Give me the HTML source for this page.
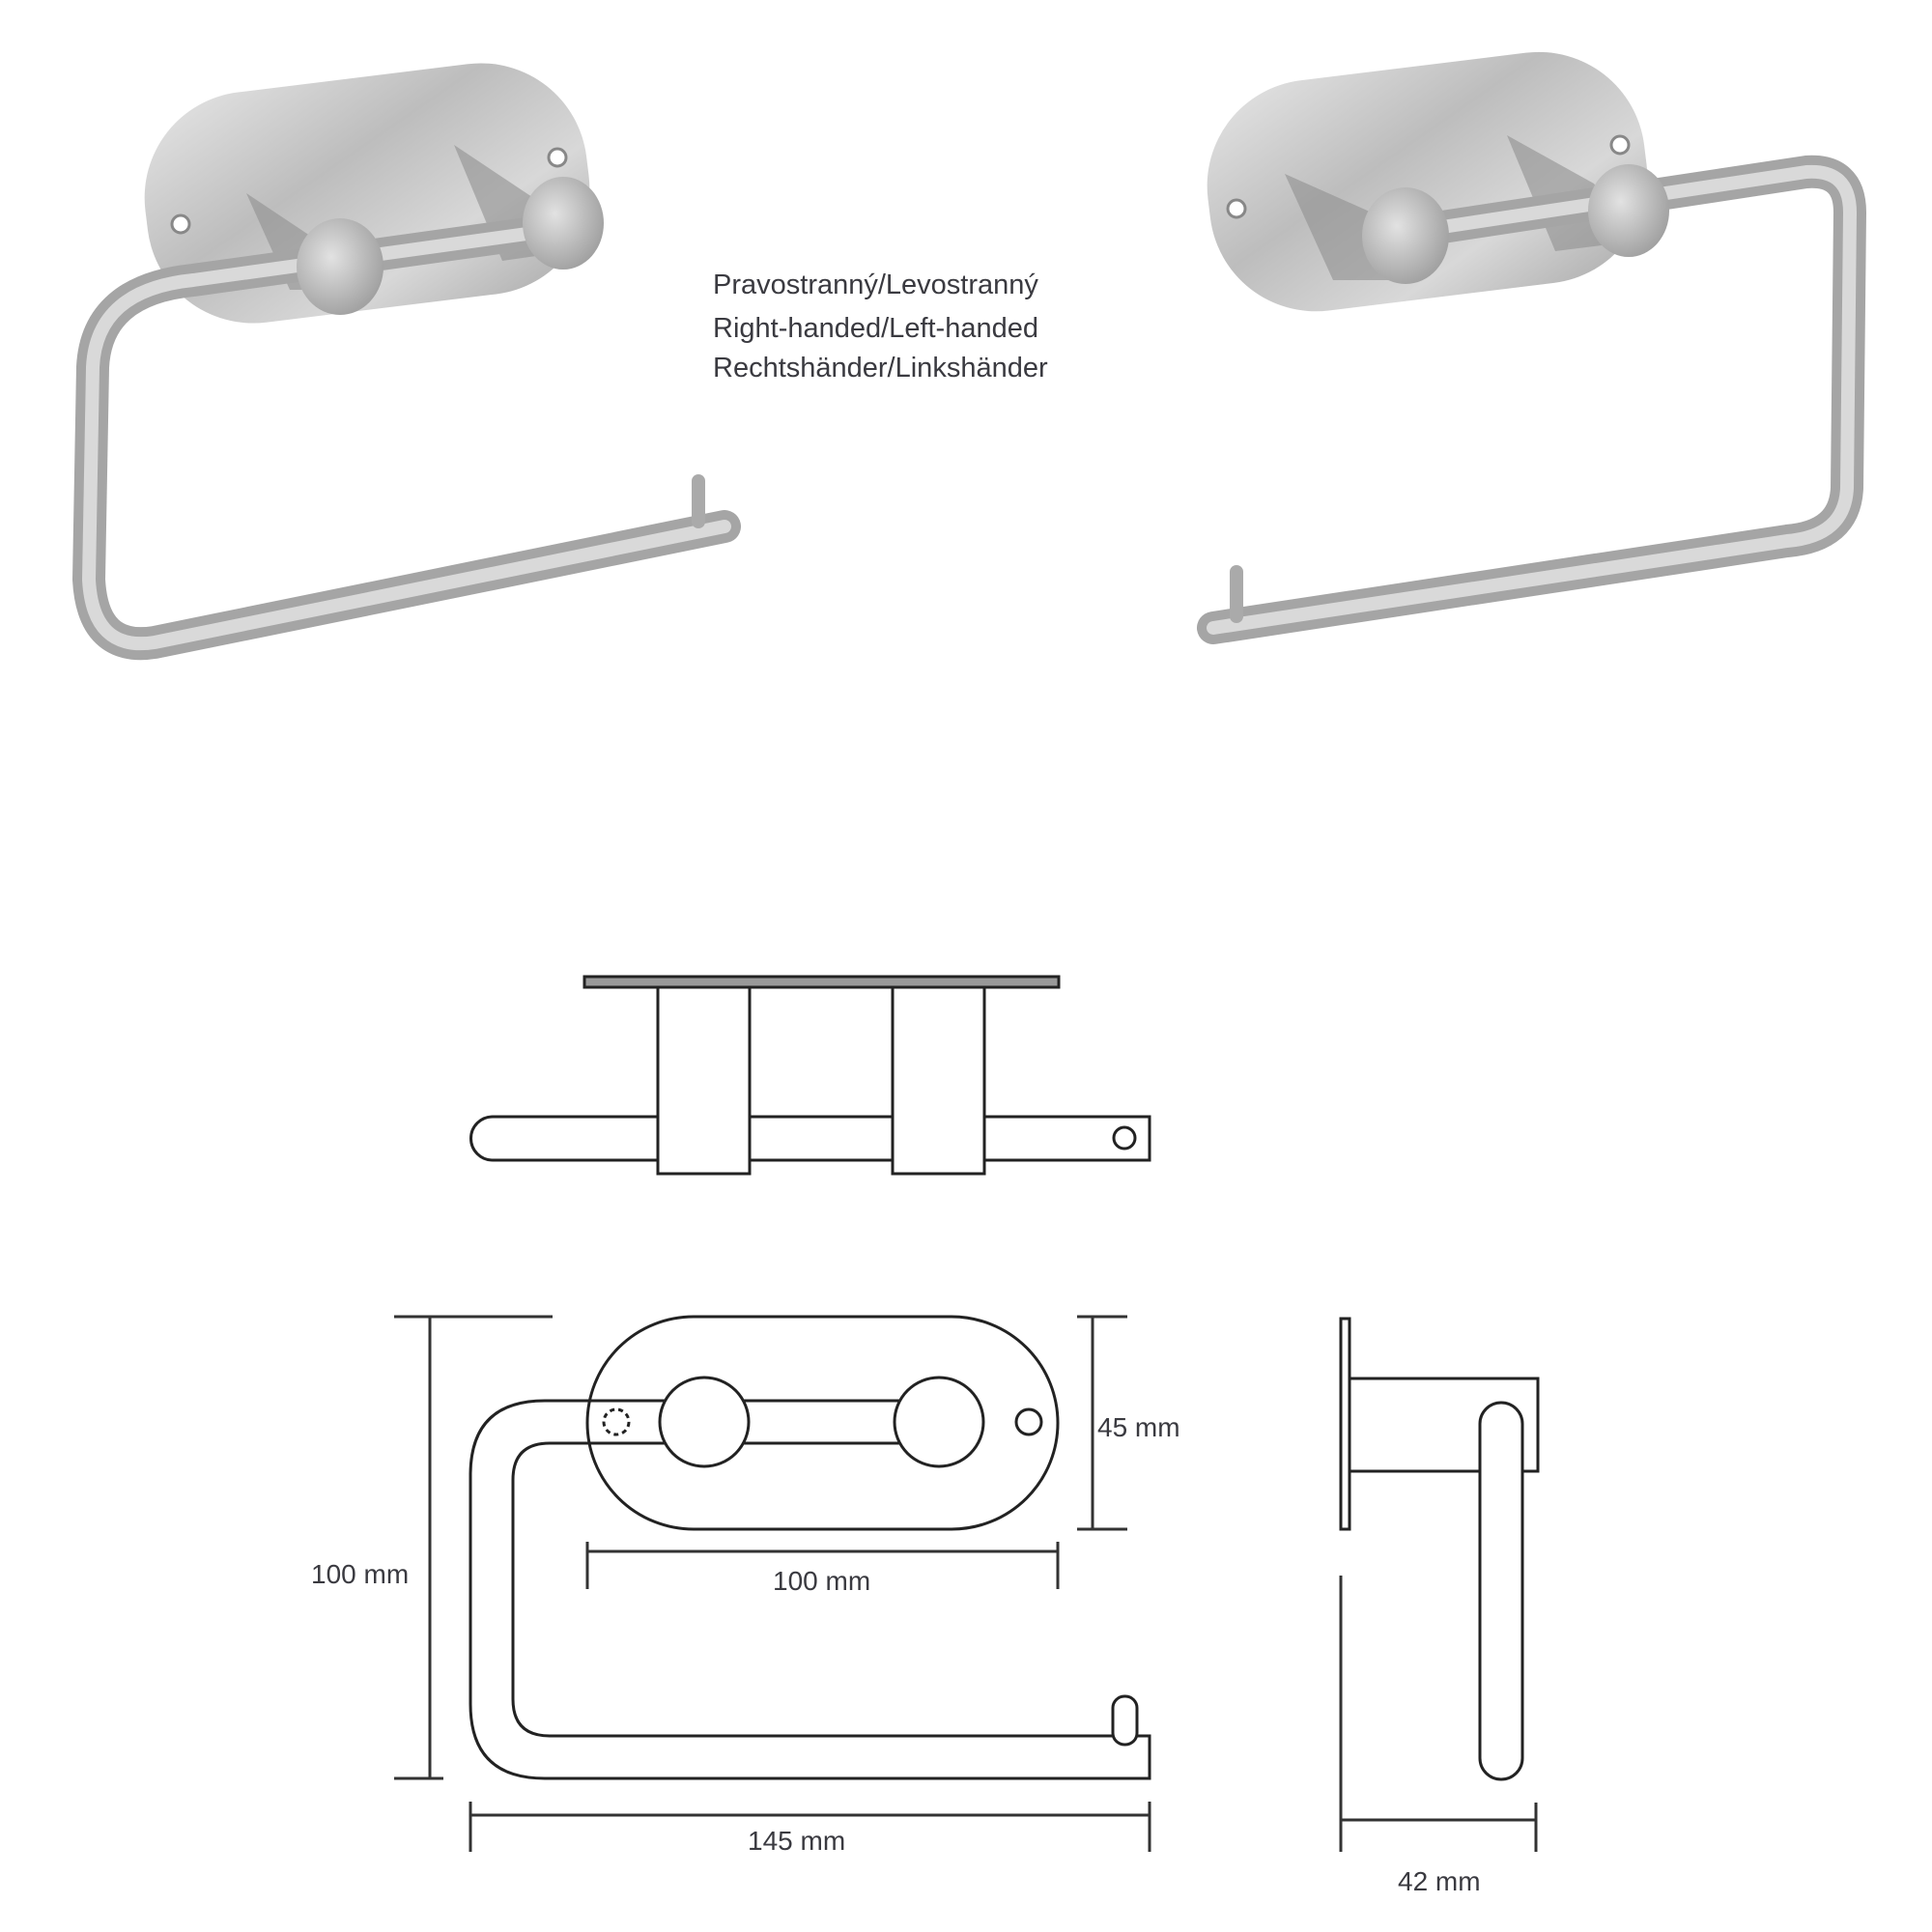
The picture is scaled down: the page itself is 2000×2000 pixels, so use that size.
<!DOCTYPE html>
<html><head><meta charset="utf-8"><style>
html,body{margin:0;padding:0;background:#fff;}
svg{display:block;}
text{font-family:"Liberation Sans",sans-serif;fill:#3a3a40;}
</style></head><body>
<svg width="2000" height="2000" viewBox="0 0 2000 2000" xmlns="http://www.w3.org/2000/svg">
<defs>
<linearGradient id="pl" x1="0" y1="0" x2="1" y2="1">
<stop offset="0" stop-color="#e6e6e6"/><stop offset="0.4" stop-color="#bdbdbd"/><stop offset="0.7" stop-color="#d8d8d8"/><stop offset="1" stop-color="#a9a9a9"/></linearGradient>
<radialGradient id="kn" cx="0.4" cy="0.4" r="0.7"><stop offset="0" stop-color="#e2e2e2"/><stop offset="1" stop-color="#9a9a9a"/></radialGradient>
</defs>
<!-- Left photo -->
<rect x="150" y="80" width="460" height="240" rx="110" fill="url(#pl)" transform="rotate(-7 380 200)"/>
<path d="M255 200 L330 250 L370 300 L300 300Z" fill="#8f8f8f" opacity="0.6"/>
<path d="M470 150 L560 210 L590 260 L520 270Z" fill="#8f8f8f" opacity="0.6"/>
<circle cx="187" cy="232" r="9" fill="#fff" stroke="#888" stroke-width="3"/>
<circle cx="577" cy="163" r="9" fill="#fff" stroke="#888" stroke-width="3"/>
<path d="M560 240 L200 290 Q100 300 96 380 L92 600 Q96 675 160 665 L750 545" fill="none" stroke="#a5a5a5" stroke-width="34" stroke-linecap="round" stroke-linejoin="round"/>
<path d="M560 240 L200 290 Q100 300 96 380 L92 600 Q96 675 160 665 L750 545" fill="none" stroke="#d9d9d9" stroke-width="14" stroke-linecap="round" stroke-linejoin="round"/>
<line x1="723" y1="498" x2="723" y2="540" stroke="#aaa" stroke-width="14" stroke-linecap="round"/>
<ellipse cx="352" cy="276" rx="45" ry="50" fill="url(#kn)"/>
<ellipse cx="583" cy="231" rx="42" ry="48" fill="url(#kn)"/>
<!-- Right photo -->
<rect x="1250" y="68" width="455" height="240" rx="110" fill="url(#pl)" transform="rotate(-7 1478 188)"/>
<path d="M1330 180 L1420 220 L1460 290 L1380 290Z" fill="#8f8f8f" opacity="0.6"/>
<path d="M1560 140 L1650 190 L1690 250 L1610 260Z" fill="#8f8f8f" opacity="0.6"/>
<circle cx="1280" cy="216" r="9" fill="#fff" stroke="#888" stroke-width="3"/>
<circle cx="1677" cy="150" r="9" fill="#fff" stroke="#888" stroke-width="3"/>
<path d="M1460 240 L1870 178 Q1915 175 1915 220 L1912 505 Q1910 555 1850 560 L1256 650" fill="none" stroke="#a5a5a5" stroke-width="34" stroke-linecap="round" stroke-linejoin="round"/>
<path d="M1460 240 L1870 178 Q1915 175 1915 220 L1912 505 Q1910 555 1850 560 L1256 650" fill="none" stroke="#d9d9d9" stroke-width="14" stroke-linecap="round" stroke-linejoin="round"/>
<line x1="1280" y1="592" x2="1280" y2="638" stroke="#aaa" stroke-width="14" stroke-linecap="round"/>
<ellipse cx="1455" cy="244" rx="45" ry="50" fill="url(#kn)"/>
<ellipse cx="1686" cy="218" rx="42" ry="48" fill="url(#kn)"/>
<!-- labels -->
<text x="738" y="304" font-size="29">Pravostranný/Levostranný</text>
<text x="738" y="349" font-size="29">Right-handed/Left-handed</text>
<text x="738" y="390" font-size="29">Rechtshänder/Linkshänder</text>
<!-- Top view drawing -->
<g fill="none" stroke="#222" stroke-width="3">
<rect x="605" y="1011" width="491" height="11" fill="#999"/>
<path d="M510 1156 L1190 1156 L1190 1201 L510 1201 A22 22 0 0 1 510 1156Z" fill="#fff"/>
<rect x="681" y="1022" width="95" height="193" fill="#fff"/>
<rect x="924" y="1022" width="95" height="193" fill="#fff"/>
<circle cx="1164" cy="1178" r="11"/>
</g>
<!-- Front view -->
<g fill="none" stroke="#222" stroke-width="3">
<rect x="608" y="1363" width="487" height="220" rx="110" fill="#fff"/>
<path d="M610 1450 L564 1450 Q487 1450 487 1527 L487 1764 Q487 1841 564 1841 L1190 1841 L1190 1797 L569 1797 Q531 1797 531 1759 L531 1532 Q531 1494 569 1494 L610 1494"/>
<path d="M729 1450 L972 1450 M729 1494 L972 1494"/>
<path d="M600 1450 L690 1450 M600 1494 L690 1494"/>
<circle cx="729" cy="1472" r="46" fill="#fff"/>
<circle cx="972" cy="1472" r="46" fill="#fff"/>
<circle cx="638" cy="1472" r="13" stroke-dasharray="5 4"/>
<circle cx="1065" cy="1472" r="13"/>
<rect x="1152" y="1756" width="25" height="50" rx="12" fill="#fff"/>
</g>
<!-- Side view -->
<g fill="none" stroke="#222" stroke-width="3">
<rect x="1388" y="1365" width="9" height="218"/>
<path d="M1397 1427 L1592 1427 L1592 1523 L1397 1523"/>
<rect x="1532" y="1452" width="44" height="390" rx="22" fill="#fff"/>
</g>
<!-- Dimensions -->
<g stroke="#333" stroke-width="3">
<line x1="445" y1="1363" x2="445" y2="1841"/>
<line x1="408" y1="1363" x2="572" y2="1363"/>
<line x1="408" y1="1841" x2="459" y2="1841"/>
<line x1="1131" y1="1363" x2="1131" y2="1583"/>
<line x1="1115" y1="1363" x2="1167" y2="1363"/>
<line x1="1115" y1="1583" x2="1167" y2="1583"/>
<line x1="608" y1="1606" x2="1095" y2="1606"/>
<line x1="608" y1="1596" x2="608" y2="1645"/>
<line x1="1095" y1="1596" x2="1095" y2="1645"/>
<line x1="487" y1="1879" x2="1190" y2="1879"/>
<line x1="487" y1="1865" x2="487" y2="1917"/>
<line x1="1190" y1="1865" x2="1190" y2="1917"/>
<line x1="1388" y1="1631" x2="1388" y2="1917"/>
<line x1="1388" y1="1884" x2="1590" y2="1884"/>
<line x1="1590" y1="1866" x2="1590" y2="1917"/>
</g>
<text x="322" y="1639" font-size="28">100 mm</text>
<text x="1136" y="1487" font-size="28">45 mm</text>
<text x="800" y="1646" font-size="28">100 mm</text>
<text x="774" y="1915" font-size="28">145 mm</text>
<text x="1447" y="1957" font-size="28">42 mm</text>
</svg>
</body></html>
